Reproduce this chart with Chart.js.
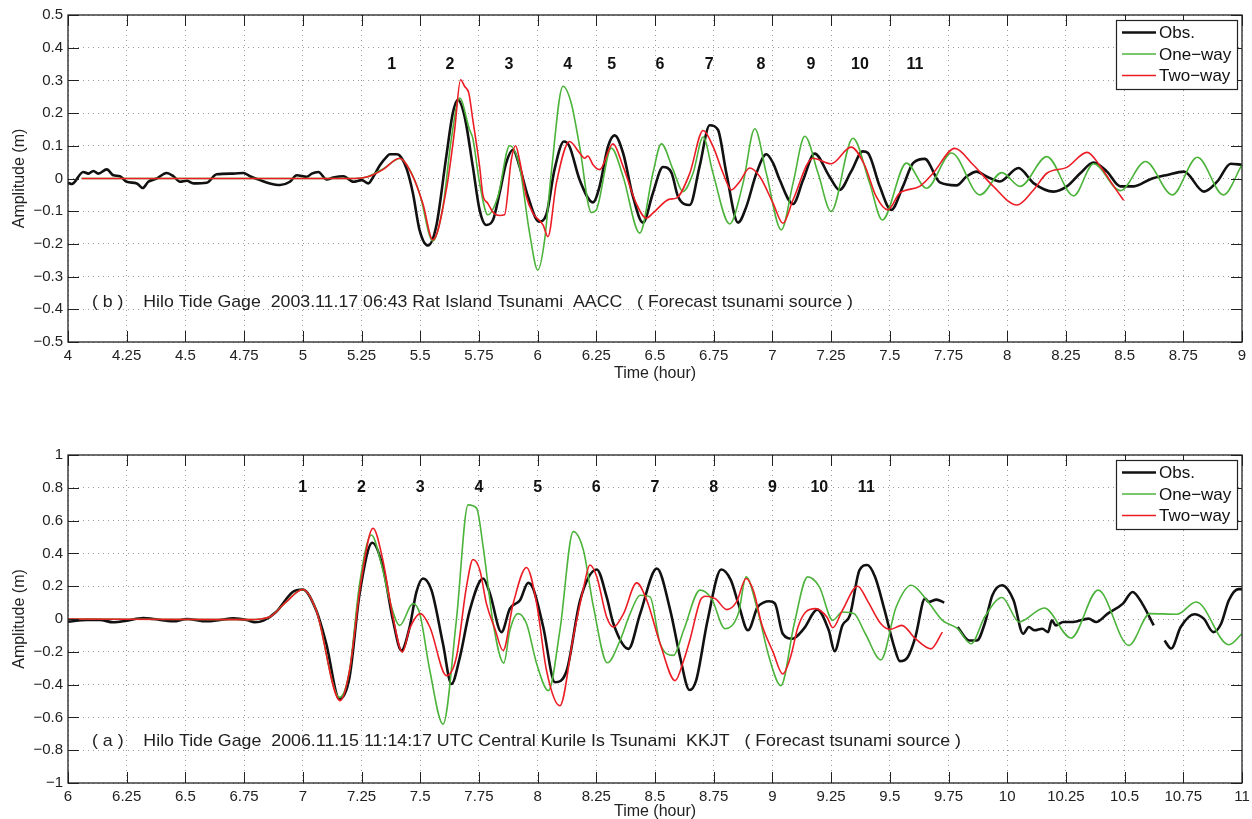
<!DOCTYPE html>
<html>
<head>
<meta charset="utf-8">
<title>Hilo Tide Gage</title>
<script src="https://cdn.jsdelivr.net/npm/chart.js@4.4.1/dist/chart.umd.min.js"></script>
<style>
  html, body { margin: 0; padding: 0; background: #fff; }
  #wrap { position: relative; width: 1252px; height: 819px; }
  canvas { position: absolute; left: 0; }
  #top { top: 0; }
  #bottom { top: 440px; }
</style>
</head>
<body>
<div id="wrap">
  <canvas id="top" width="1252" height="400"></canvas>
  <canvas id="bottom" width="1252" height="379"></canvas>
</div>
<script>
const FONT = "'Liberation Sans', Arial, Helvetica, sans-serif"
const TICK_LEN = 11

const seriesNames = ["Obs.", "One\u2212way", "Two\u2212way"]
const seriesColors = ["#111111", "#4cb33b", "#ec1c24"]
const seriesWidths = [2.6, 1.6, 1.6]
const waveNumbers = ["1", "2", "3", "4", "5", "6", "7", "8", "9", "10", "11"]

// (b) 2003 Rat Island
const topTimeTicks = [4, 4.25, 4.5, 4.75, 5, 5.25, 5.5, 5.75, 6, 6.25, 6.5, 6.75, 7, 7.25, 7.5, 7.75, 8, 8.25, 8.5, 8.75, 9]
const topAmpTicks = [-0.5, -0.4, -0.3, -0.2, -0.1, 0, 0.1, 0.2, 0.3, 0.4, 0.5]

const topObsTime = [4.000, 4.016, 4.065, 4.087, 4.108, 4.129, 4.165, 4.193, 4.221, 4.250, 4.293, 4.318, 4.342, 4.378, 4.420, 4.449, 4.477, 4.506, 4.534, 4.591, 4.633, 4.704, 4.747, 4.775, 4.818, 4.860, 4.903, 4.945, 4.974, 5.017, 5.038, 5.066, 5.102, 5.130, 5.173, 5.215, 5.251, 5.279, 5.300, 5.329, 5.357, 5.371, 5.400, 5.414, 5.442, 5.469, 5.497, 5.533, 5.568, 5.611, 5.639, 5.660, 5.689, 5.724, 5.753, 5.781, 5.810, 5.838, 5.866, 5.895, 5.923, 5.959, 6.006, 6.037, 6.072, 6.112, 6.136, 6.179, 6.236, 6.264, 6.300, 6.328, 6.364, 6.406, 6.449, 6.491, 6.534, 6.570, 6.598, 6.648, 6.690, 6.733, 6.768, 6.804, 6.854, 6.889, 6.932, 6.974, 7.003, 7.031, 7.088, 7.131, 7.180, 7.243, 7.286, 7.335, 7.385, 7.407, 7.457, 7.506, 7.556, 7.599, 7.649, 7.713, 7.784, 7.827, 7.870, 7.912, 7.969, 8.048, 8.112, 8.197, 8.254, 8.311, 8.368, 8.425, 8.482, 8.539, 8.610, 8.682, 8.753, 8.838, 8.895, 8.952, 9.000]
const topObsAmp = [-0.013, -0.017, 0.020, 0.015, 0.023, 0.015, 0.028, 0.010, 0.007, -0.010, -0.015, -0.029, -0.010, 0.000, 0.017, 0.007, -0.010, -0.007, -0.015, -0.013, 0.013, 0.015, 0.017, 0.007, -0.005, -0.015, -0.020, -0.010, 0.010, 0.005, 0.015, 0.020, -0.003, 0.003, 0.007, -0.010, -0.005, -0.015, 0.005, 0.041, 0.066, 0.074, 0.074, 0.069, 0.030, -0.045, -0.157, -0.205, -0.147, 0.067, 0.200, 0.241, 0.190, 0.037, -0.096, -0.142, -0.127, -0.045, 0.047, 0.088, 0.037, -0.055, -0.132, -0.111, 0.027, 0.113, 0.098, -0.004, -0.073, -0.024, 0.098, 0.132, 0.078, -0.055, -0.135, -0.045, 0.035, 0.018, -0.055, -0.081, 0.037, 0.163, 0.149, 0.016, -0.135, -0.086, 0.016, 0.074, 0.047, -0.004, -0.078, -0.004, 0.076, 0.006, -0.035, 0.021, 0.083, 0.078, -0.024, -0.096, -0.024, 0.047, 0.060, -0.012, -0.021, 0.006, 0.021, 0.006, -0.009, 0.032, -0.014, -0.040, -0.024, 0.016, 0.049, 0.021, -0.024, -0.024, -0.002, 0.011, 0.021, -0.040, -0.009, 0.045, 0.042]

const topOneTime = [4.058, 5.200, 5.270, 5.343, 5.414, 5.455, 5.497, 5.554, 5.597, 5.632, 5.668, 5.710, 5.724, 5.753, 5.788, 5.831, 5.881, 5.923, 5.966, 6.001, 6.030, 6.058, 6.108, 6.143, 6.179, 6.229, 6.250, 6.314, 6.364, 6.435, 6.491, 6.527, 6.577, 6.619, 6.662, 6.705, 6.747, 6.818, 6.875, 6.925, 6.974, 7.038, 7.088, 7.138, 7.195, 7.250, 7.343, 7.414, 7.468, 7.571, 7.656, 7.763, 7.884, 7.977, 8.055, 8.169, 8.283, 8.368, 8.482, 8.589, 8.703, 8.810, 8.921, 9.000]
const topOneAmp = [0, 0, 0.004, 0.030, 0.061, 0.027, -0.045, -0.191, -0.086, 0.118, 0.246, 0.149, 0.123, -0.014, -0.111, -0.055, 0.100, 0.037, -0.167, -0.280, -0.188, 0.016, 0.282, 0.231, 0.098, -0.104, -0.096, 0.093, 0.006, -0.167, 0.016, 0.106, 0.027, -0.040, 0.016, 0.127, 0.016, -0.139, -0.014, 0.152, 0.016, -0.157, -0.014, 0.129, 0.015, -0.101, 0.123, -0.014, -0.127, 0.047, -0.030, 0.078, -0.050, 0.018, -0.024, 0.067, -0.053, 0.045, -0.037, 0.052, -0.050, 0.065, -0.050, 0.042]

const topTwoTime = [4.058, 5.220, 5.280, 5.343, 5.412, 5.469, 5.511, 5.554, 5.611, 5.646, 5.672, 5.689, 5.707, 5.724, 5.753, 5.767, 5.788, 5.810, 5.838, 5.859, 5.888, 5.906, 5.923, 5.952, 5.980, 6.023, 6.044, 6.080, 6.136, 6.179, 6.200, 6.214, 6.236, 6.264, 6.321, 6.364, 6.420, 6.463, 6.491, 6.563, 6.591, 6.648, 6.705, 6.747, 6.790, 6.825, 6.861, 6.903, 6.946, 7.003, 7.045, 7.088, 7.173, 7.250, 7.335, 7.392, 7.442, 7.492, 7.542, 7.627, 7.684, 7.777, 7.855, 7.941, 8.041, 8.112, 8.169, 8.254, 8.340, 8.397, 8.454, 8.496]
const topTwoAmp = [0, 0, 0.006, 0.028, 0.062, 0.006, -0.076, -0.188, -0.035, 0.144, 0.302, 0.282, 0.261, 0.180, 0.037, -0.050, -0.076, -0.103, -0.113, -0.111, 0.057, 0.100, 0.057, -0.055, -0.106, -0.142, -0.178, -0.014, 0.113, 0.078, 0.062, 0.069, 0.042, 0.027, 0.106, 0.037, -0.076, -0.121, -0.106, -0.063, -0.060, 0.016, 0.147, 0.098, 0.016, -0.035, -0.009, 0.032, 0.006, -0.076, -0.137, -0.065, 0.062, 0.045, 0.096, 0.042, -0.055, -0.096, -0.045, -0.024, 0.016, 0.092, 0.042, -0.024, -0.081, -0.035, 0.016, 0.034, 0.080, 0.037, -0.024, -0.067]

const topWaveTime = [5.379, 5.627, 5.878, 6.128, 6.316, 6.521, 6.731, 6.951, 7.164, 7.373, 7.607]
const topWaveAmp = 0.347
const topNote = "( b )    Hilo Tide Gage  2003.11.17 06:43 Rat Island Tsunami  AACC   ( Forecast tsunami source )"
const topNoteTime = [4.102, 7.343]
const topNoteAmp = -0.378

// (a) 2006 Central Kurile
const botTimeTicks = [6, 6.25, 6.5, 6.75, 7, 7.25, 7.5, 7.75, 8, 8.25, 8.5, 8.75, 9, 9.25, 9.5, 9.75, 10, 10.25, 10.5, 10.75, 11]
const botAmpTicks = [-1, -0.8, -0.6, -0.4, -0.2, 0, 0.2, 0.4, 0.6, 0.8, 1]

const botObsTime = [6.000, 6.080, 6.136, 6.193, 6.250, 6.321, 6.363, 6.449, 6.506, 6.591, 6.647, 6.704, 6.761, 6.796, 6.832, 6.886, 6.957, 7.000, 7.057, 7.100, 7.156, 7.199, 7.242, 7.296, 7.341, 7.384, 7.420, 7.455, 7.484, 7.512, 7.548, 7.597, 7.633, 7.669, 7.711, 7.768, 7.797, 7.846, 7.882, 7.925, 7.960, 7.981, 8.024, 8.074, 8.124, 8.181, 8.252, 8.294, 8.323, 8.387, 8.437, 8.508, 8.565, 8.607, 8.647, 8.675, 8.724, 8.782, 8.823, 8.855, 8.896, 8.937, 8.962, 8.986, 9.011, 9.044, 9.085, 9.134, 9.191, 9.240, 9.265, 9.298, 9.330, 9.371, 9.404, 9.437, 9.478, 9.519, 9.543, 9.576, 9.609, 9.650, 9.666, 9.699, 9.732, 9.760, 9.789, 9.838, 9.871, 9.904, 9.937, 9.978, 10.027, 10.068, 10.092, 10.117, 10.149, 10.174, 10.190, 10.207, 10.239, 10.281, 10.346, 10.379, 10.428, 10.493, 10.534, 10.575, 10.624, 10.645, 10.670, 10.698, 10.739, 10.797, 10.837, 10.878, 10.911, 10.944, 10.985, 11.000]
const botObsAmp = [-0.016, -0.006, -0.006, -0.020, -0.010, 0.006, 0.000, -0.014, 0.000, -0.014, -0.006, 0.004, -0.006, -0.020, -0.010, 0.043, 0.165, 0.180, 0.053, -0.151, -0.488, -0.355, 0.155, 0.465, 0.318, -0.008, -0.192, -0.049, 0.165, 0.247, 0.176, -0.151, -0.396, -0.233, 0.053, 0.247, 0.155, -0.080, 0.063, 0.114, 0.220, 0.186, -0.049, -0.386, -0.314, 0.114, 0.302, 0.135, -0.029, -0.182, 0.033, 0.308, 0.053, -0.233, -0.433, -0.376, -0.008, 0.302, 0.237, 0.094, -0.069, 0.073, 0.100, 0.108, 0.094, -0.090, -0.120, -0.059, 0.057, -0.069, -0.196, -0.039, 0.022, 0.298, 0.329, 0.257, 0.053, -0.171, -0.257, -0.233, -0.110, 0.124, 0.104, 0.118, 0.100, null, -0.049, -0.131, -0.131, -0.029, 0.145, 0.206, 0.114, -0.090, -0.049, -0.069, -0.059, -0.080, -0.008, -0.039, -0.018, -0.018, 0.002, -0.018, 0.033, 0.094, 0.165, 0.094, -0.039, null, -0.131, -0.180, -0.049, 0.029, 0.002, -0.080, -0.029, 0.114, 0.182, 0.182]

const botOneTime = [6.000, 6.772, 6.858, 6.915, 7.000, 7.057, 7.156, 7.199, 7.242, 7.292, 7.334, 7.370, 7.413, 7.469, 7.498, 7.541, 7.597, 7.654, 7.704, 7.740, 7.768, 7.811, 7.856, 7.882, 7.917, 7.953, 7.996, 8.046, 8.095, 8.152, 8.195, 8.238, 8.297, 8.351, 8.394, 8.437, 8.479, 8.522, 8.579, 8.622, 8.692, 8.741, 8.798, 8.855, 8.888, 8.937, 8.986, 9.036, 9.093, 9.150, 9.200, 9.257, 9.298, 9.347, 9.396, 9.462, 9.527, 9.592, 9.658, 9.724, 9.789, 9.846, 9.904, 9.978, 10.051, 10.158, 10.272, 10.387, 10.518, 10.608, 10.723, 10.805, 10.944, 11.000]
const botOneAmp = [0, -0.004, 0.012, 0.084, 0.180, 0.053, -0.478, -0.314, 0.216, 0.512, 0.339, 0.114, -0.039, 0.094, 0.033, -0.314, -0.641, -0.008, 0.696, 0.676, 0.441, -0.029, -0.269, -0.069, 0.033, -0.029, -0.273, -0.437, -0.069, 0.533, 0.420, 0.073, -0.267, -0.131, 0.033, 0.145, 0.135, -0.151, -0.222, -0.069, 0.176, 0.124, -0.059, 0.033, 0.257, 0.053, -0.233, -0.406, -0.029, 0.257, 0.196, -0.008, 0.043, 0.033, -0.090, -0.249, 0.073, 0.206, 0.114, -0.008, -0.059, -0.151, 0.012, 0.131, -0.018, 0.067, -0.116, 0.176, -0.161, 0.033, 0.029, 0.104, -0.157, -0.090]

const botTwoTime = [6.000, 6.772, 6.858, 6.929, 7.000, 7.057, 7.159, 7.199, 7.249, 7.299, 7.341, 7.384, 7.424, 7.455, 7.501, 7.541, 7.612, 7.654, 7.697, 7.725, 7.754, 7.782, 7.818, 7.853, 7.896, 7.953, 7.996, 8.038, 8.095, 8.152, 8.195, 8.223, 8.252, 8.294, 8.323, 8.366, 8.422, 8.465, 8.522, 8.586, 8.622, 8.650, 8.693, 8.716, 8.757, 8.806, 8.847, 8.888, 8.921, 8.954, 9.003, 9.044, 9.077, 9.109, 9.142, 9.183, 9.232, 9.257, 9.298, 9.363, 9.404, 9.462, 9.502, 9.551, 9.609, 9.675, 9.724]
const botTwoAmp = [0, -0.004, 0.012, 0.104, 0.180, 0.053, -0.498, -0.314, 0.237, 0.553, 0.359, 0.012, -0.202, -0.059, 0.033, -0.049, -0.345, -0.233, 0.196, 0.363, 0.298, 0.094, -0.059, -0.192, 0.094, 0.314, 0.094, -0.314, -0.529, -0.110, 0.186, 0.329, 0.257, 0.012, -0.049, 0.033, 0.220, 0.114, -0.151, -0.376, -0.253, -0.120, 0.114, 0.139, 0.124, 0.057, 0.104, 0.247, 0.165, -0.029, -0.202, -0.335, -0.233, -0.049, 0.043, 0.063, 0.012, -0.053, 0.053, 0.200, 0.114, -0.029, -0.063, -0.039, -0.120, -0.182, -0.080]

const botWaveTime = [7, 7.25, 7.5, 7.75, 8, 8.25, 8.5, 8.75, 9, 9.2, 9.4]
const botWaveAmp = 0.8
const botNote = "( a )    Hilo Tide Gage  2006.11.15 11:14:17 UTC Central Kurile Is Tsunami  KKJT   ( Forecast tsunami source )"
const botNoteTime = [6.102, 9.803]
const botNoteAmp = -0.748

// Tick labels in Matlab style (true minus sign)
function tickText(v) {
  return String(parseFloat(Number(v).toFixed(2))).replace("-", "\u2212")
}

// Pair the time and amplitude arrays into points
function toPoints(times, amps) {
  return times.map((t, i) => ({ x: t, y: amps[i] }))
}

// Legend box in the top right corner of the plot
function drawLegend(ctx, a) {
  const w = 121
  const h = 69
  const left = a.right - 126
  const top = a.top + 5
  ctx.fillStyle = "#fff"
  ctx.fillRect(left, top, w, h)
  ctx.strokeStyle = "#222"
  ctx.lineWidth = 1.2
  ctx.strokeRect(left + 0.5, top + 0.5, w, h)
  ctx.font = "17px " + FONT
  ctx.textAlign = "left"
  ctx.textBaseline = "middle"
  seriesNames.forEach((name, i) => {
    const y = top + 12.5 + i * 21.5
    ctx.strokeStyle = seriesColors[i]
    ctx.lineWidth = seriesWidths[i]
    ctx.beginPath()
    ctx.moveTo(left + 6, y)
    ctx.lineTo(left + 40, y)
    ctx.stroke()
    ctx.fillStyle = "#111"
    ctx.fillText(name, left + 43, y + 1)
  })
}

// Box, inner ticks, wave numbers, note and legend
const matlabFrame = {
  id: "matlabFrame",
  afterDraw(chart, args, opts) {
    const { ctx, chartArea: a } = chart
    const xs = chart.scales.x
    const ys = chart.scales.y
    ctx.save()
    ctx.strokeStyle = "#222"
    ctx.lineWidth = 1
    ctx.beginPath()
    xs.ticks.forEach((t) => {
      const px = Math.round(xs.getPixelForValue(t.value)) + 0.5
      ctx.moveTo(px, a.bottom)
      ctx.lineTo(px, a.bottom - TICK_LEN)
      ctx.moveTo(px, a.top)
      ctx.lineTo(px, a.top + TICK_LEN)
    })
    ys.ticks.forEach((t) => {
      const py = Math.round(ys.getPixelForValue(t.value)) + 0.5
      ctx.moveTo(a.left, py)
      ctx.lineTo(a.left + TICK_LEN, py)
      ctx.moveTo(a.right, py)
      ctx.lineTo(a.right - TICK_LEN, py)
    })
    ctx.stroke()
    ctx.lineWidth = 1.3
    ctx.strokeRect(a.left, a.top, a.width, a.height)

    ctx.fillStyle = "#111"
    ctx.font = "bold 16px " + FONT
    ctx.textAlign = "center"
    ctx.textBaseline = "middle"
    opts.waveTime.forEach((t, i) => {
      ctx.fillText(waveNumbers[i], xs.getPixelForValue(t), ys.getPixelForValue(opts.waveAmp))
    })

    ctx.font = "17px " + FONT
    ctx.textAlign = "left"
    const x1 = xs.getPixelForValue(opts.noteTime[0])
    const x2 = xs.getPixelForValue(opts.noteTime[1])
    const sx = (x2 - x1) / ctx.measureText(opts.note).width
    ctx.save()
    ctx.translate(x1, ys.getPixelForValue(opts.noteAmp))
    ctx.scale(sx, 1)
    ctx.fillStyle = "#222"
    ctx.fillText(opts.note, 0, 0)
    ctx.restore()

    drawLegend(ctx, a)
    ctx.restore()
  },
}

function makePanel(id, p) {
  const series = [
    toPoints(p.obsTime, p.obsAmp),
    toPoints(p.oneTime, p.oneAmp),
    toPoints(p.twoTime, p.twoAmp),
  ]
  new Chart(document.getElementById(id), {
    type: "line",
    data: {
      datasets: series.map((pts, i) => ({
        label: seriesNames[i],
        data: pts,
        borderColor: seriesColors[i],
        borderWidth: seriesWidths[i],
        pointRadius: 0,
        cubicInterpolationMode: "monotone",
        spanGaps: false,
        order: 3 - i,
      })),
    },
    options: {
      responsive: false,
      animation: false,
      layout: { padding: { top: 15, right: 10, bottom: 0, left: 0 } },
      plugins: {
        legend: { display: false },
        tooltip: { enabled: false },
        matlabFrame: p.frame,
      },
      scales: {
        x: {
          type: "linear",
          min: p.timeTicks[0],
          max: p.timeTicks[p.timeTicks.length - 1],
          afterBuildTicks: (s) => { s.ticks = p.timeTicks.map((v) => ({ value: v })) },
          afterFit: (s) => {
            s.height = p.xHeight
            s.paddingLeft = 0
            s.paddingRight = 0
          },
          grid: { color: "#9a9a9a", lineWidth: 1, drawTicks: false },
          border: { display: false, dash: [1, 4] },
          ticks: { autoSkip: false, maxRotation: 0, padding: 5, color: "#222", font: { family: FONT, size: 15 }, callback: tickText },
          title: { display: true, text: "Time (hour)", color: "#222", font: { family: FONT, size: 16 }, padding: { top: 0, bottom: p.xTitlePad } },
        },
        y: {
          type: "linear",
          min: p.ampTicks[0],
          max: p.ampTicks[p.ampTicks.length - 1],
          afterBuildTicks: (s) => { s.ticks = p.ampTicks.map((v) => ({ value: v })) },
          afterFit: (s) => { s.width = 68 },
          grid: { color: "#9a9a9a", lineWidth: 1, drawTicks: false },
          border: { display: false, dash: [1, 4] },
          ticks: { padding: 5, color: "#222", font: { family: FONT, size: 15 }, callback: tickText },
          title: { display: true, text: "Amplitude (m)", color: "#222", font: { family: FONT, size: 16 }, padding: { top: 10, bottom: 0 } },
        },
      },
    },
    plugins: [matlabFrame],
  })
}

makePanel("top", {
  obsTime: topObsTime, obsAmp: topObsAmp,
  oneTime: topOneTime, oneAmp: topOneAmp,
  twoTime: topTwoTime, twoAmp: topTwoAmp,
  timeTicks: topTimeTicks, ampTicks: topAmpTicks,
  xHeight: 58, xTitlePad: 17,
  frame: { waveTime: topWaveTime, waveAmp: topWaveAmp, note: topNote, noteTime: topNoteTime, noteAmp: topNoteAmp },
})

makePanel("bottom", {
  obsTime: botObsTime, obsAmp: botObsAmp,
  oneTime: botOneTime, oneAmp: botOneAmp,
  twoTime: botTwoTime, twoAmp: botTwoAmp,
  timeTicks: botTimeTicks, ampTicks: botAmpTicks,
  xHeight: 36, xTitlePad: -2,
  frame: { waveTime: botWaveTime, waveAmp: botWaveAmp, note: botNote, noteTime: botNoteTime, noteAmp: botNoteAmp },
})
</script>
</body>
</html>
